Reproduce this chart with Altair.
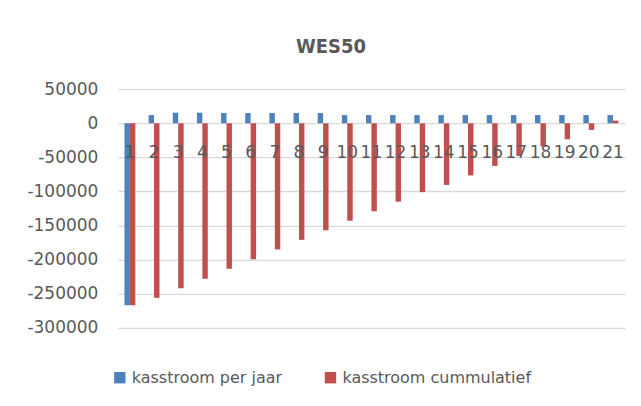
import altair as alt
import pandas as pd

jaren = [str(i) for i in range(1, 22)]
per_jaar = [-267000, 12000, 15500, 15500, 15000, 15000, 15000, 15000, 15000,
            12000, 12000, 12000, 12000, 12000, 12000, 12000, 12000, 12000,
            12000, 12000, 12000]
cumulatief = [-267000, -256000, -242000, -228000, -213500, -199500, -185000,
              -171000, -157000, -143000, -129000, -115000, -101000, -90500,
              -76500, -62500, -48000, -34000, -23500, -9700, 3900]
series = ["kasstroom per jaar", "kasstroom cummulatief"]
colors = ["#4f81bd", "#c0504d"]
y_ticks = [50000, 0, -50000, -100000, -150000, -200000, -250000, -300000]

rows = []
for j, a, c in zip(jaren, per_jaar, cumulatief):
    rows.append({"jaar": j, "serie": series[0], "waarde": a})
    rows.append({"jaar": j, "serie": series[1], "waarde": c})
df = pd.DataFrame(rows)

W, H = 508, 239
zero_px = H * 50000 / 350000
FONT = "DejaVu Sans"
GREY = "#595959"

chart = alt.Chart(df).mark_bar().encode(
    x=alt.X("jaar:N", sort=jaren,
            scale=alt.Scale(paddingInner=0.55, paddingOuter=0.275),
            axis=alt.Axis(title=None, labelAngle=0, domain=False, ticks=False,
                          grid=False, labelFont=FONT, labelFontSize=17,
                          labelColor=GREY, labelPadding=21, labelOverlap=False,
                          zindex=1, offset=-(H - zero_px))),
    xOffset=alt.XOffset("serie:N", sort=series,
                        scale=alt.Scale(paddingInner=0, paddingOuter=0)),
    y=alt.Y("waarde:Q",
            scale=alt.Scale(domain=[-300000, 50000], nice=False),
            axis=alt.Axis(title=None, values=y_ticks, domain=False, ticks=False,
                          labelExpr="toString(datum.value)",
                          labelFont=FONT, labelFontSize=17, labelColor=GREY,
                          labelPadding=20, gridColor="#d9d9d9", gridWidth=1.3)),
    color=alt.Color("serie:N", sort=series,
                    scale=alt.Scale(domain=series, range=colors),
                    legend=alt.Legend(title=None, orient="none", direction="horizontal",
                                      legendX=-6, legendY=281,
                                      symbolType="square", symbolSize=130,
                                      symbolStrokeWidth=0, labelLimit=400,
                                      labelFont=FONT, labelFontSize=16,
                                      labelColor=GREY, columnPadding=40,
                                      symbolOffset=0, labelOffset=4)),
).properties(
    width=W, height=H,
    background="white",
    title=alt.TitleParams("WES50", font="Liberation Sans Narrow, DejaVu Sans Condensed, DejaVu Sans",
                          fontSize=20, fontWeight="bold", color=GREY,
                          anchor="middle", frame="bounds", offset=23, dx=5),
    padding={"left": 18, "top": 29, "right": 8, "bottom": 8},
).configure_view(strokeWidth=0, stroke="transparent")

chart.save("out.html", embed_options={"renderer": "svg", "actions": False})
